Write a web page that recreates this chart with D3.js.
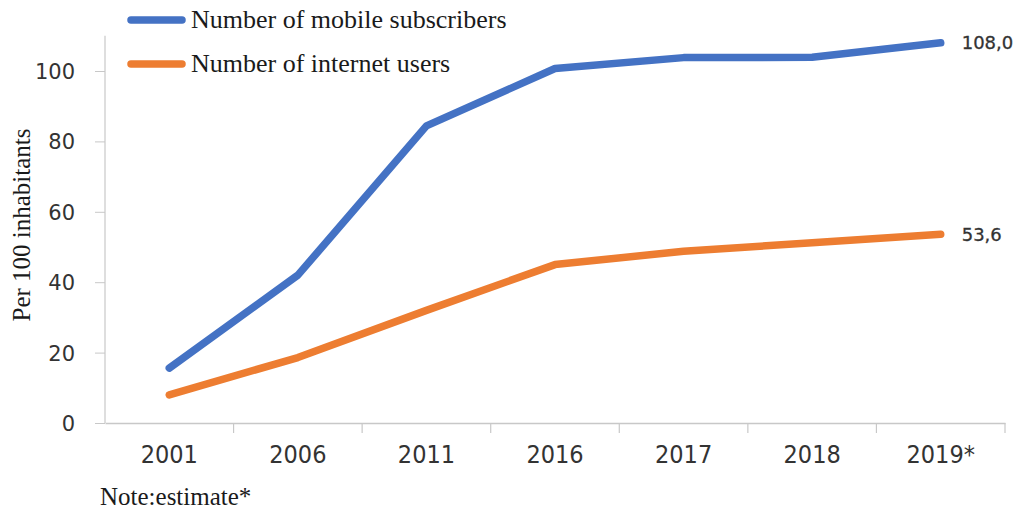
<!DOCTYPE html>
<html>
<head>
<meta charset="utf-8">
<script src="https://cdn.jsdelivr.net/npm/d3@7/dist/d3.min.js"></script>
<style>
  html, body { margin: 0; padding: 0; background: #fff; }
  svg { display: block; }
</style>
</head>
<body>
<svg id="chart" width="1022" height="513"></svg>
<script>
const categories = ["2001", "2006", "2011", "2016", "2017", "2018", "2019*"];
const mobileSubscribers = [15.6, 42.0, 84.4, 100.7, 103.8, 103.9, 108.0];
const internetUsers = [8.0, 18.6, 32.0, 45.0, 48.8, 51.2, 53.6];
const yTicks = [0, 20, 40, 60, 80, 100];
const seriesNames = ["Number of mobile subscribers", "Number of internet users"];
const endLabels = ["108,0", "53,6"];

const series = [
  { name: seriesNames[0], values: mobileSubscribers, color: "#4472C4", label: endLabels[0] },
  { name: seriesNames[1], values: internetUsers, color: "#ED7D31", label: endLabels[1] }
];

const svg = d3.select("#chart");
const left = 105, right = 1005, bottom = 423;

const x = d3.scaleBand().domain(categories).range([left, right]);
const y = d3.scaleLinear().domain([0, 100]).range([bottom, 71]);
const axisTop = y(110);

const axisColor = "#c8c8c8";

// y axis
const yAxis = svg.append("g").attr("transform", `translate(${left},0)`)
  .call(d3.axisLeft(y).tickValues(yTicks).tickSize(10).tickPadding(20).tickFormat(d3.format("d")));
yAxis.select(".domain").remove();
yAxis.selectAll(".tick line").attr("stroke", axisColor);
yAxis.selectAll(".tick text")
  .attr("font-family", "DejaVu Sans, sans-serif")
  .attr("font-size", 21).attr("fill", "#333").attr("dy", "0.36em");
svg.append("line").attr("x1", left).attr("x2", left).attr("y1", axisTop).attr("y2", bottom)
  .attr("stroke", axisColor).attr("stroke-width", 1.2);

// x axis
const xAxis = svg.append("g").attr("transform", `translate(0,${bottom})`)
  .call(d3.axisBottom(x).tickSize(0).tickPadding(22));
xAxis.select(".domain").attr("stroke", axisColor).attr("stroke-width", 1.5);
xAxis.selectAll(".tick text")
  .attr("font-family", "DejaVu Sans Condensed, DejaVu Sans, sans-serif")
  .attr("font-size", 25).attr("fill", "#333");
// category boundary ticks
const bounds = categories.map(c => x(c) + x.bandwidth());
svg.append("g").selectAll("line").data(bounds).join("line")
  .attr("x1", d => d).attr("x2", d => d)
  .attr("y1", bottom).attr("y2", bottom + 10)
  .attr("stroke", axisColor).attr("stroke-width", 1.2);

// lines
const line = d3.line()
  .x((d, i) => x(categories[i]) + x.bandwidth() / 2)
  .y(d => y(d));

series.forEach(s => {
  svg.append("path").datum(s.values)
    .attr("d", line)
    .attr("fill", "none")
    .attr("stroke", s.color)
    .attr("stroke-width", 7.5)
    .attr("stroke-linejoin", "round")
    .attr("stroke-linecap", "round");
  const last = s.values.length - 1;
  svg.append("text")
    .attr("x", x(categories[last]) + x.bandwidth() / 2 + 21)
    .attr("y", y(s.values[last]))
    .attr("dy", "0.35em")
    .attr("font-family", "DejaVu Sans, sans-serif")
    .attr("font-size", 18)
    .attr("fill", "#333")
    .attr("stroke", "#333").attr("stroke-width", 0.3)
    .text(s.label);
});

// legend
const legend = svg.append("g");
series.forEach((s, i) => {
  const ly = 20 + i * 44;
  legend.append("line")
    .attr("x1", 131).attr("x2", 182).attr("y1", ly).attr("y2", ly)
    .attr("stroke", s.color).attr("stroke-width", 7.5).attr("stroke-linecap", "round");
  legend.append("text")
    .attr("x", 191).attr("y", ly).attr("dy", "0.3em")
    .attr("font-family", "Liberation Serif, serif")
    .attr("font-size", 26)
    .attr("fill", "#1a1a1a")
    .text(s.name);
});

// y axis title
svg.append("text")
  .attr("transform", `translate(30,225) rotate(-90)`)
  .attr("text-anchor", "middle")
  .attr("font-family", "Liberation Serif, serif")
  .attr("font-size", 25)
  .attr("fill", "#1a1a1a")
  .text("Per 100 inhabitants");

// note
svg.append("text")
  .attr("x", 100).attr("y", 505)
  .attr("font-family", "Liberation Serif, serif")
  .attr("font-size", 25)
  .attr("fill", "#1a1a1a")
  .text("Note:estimate*");
</script>
</body>
</html>
